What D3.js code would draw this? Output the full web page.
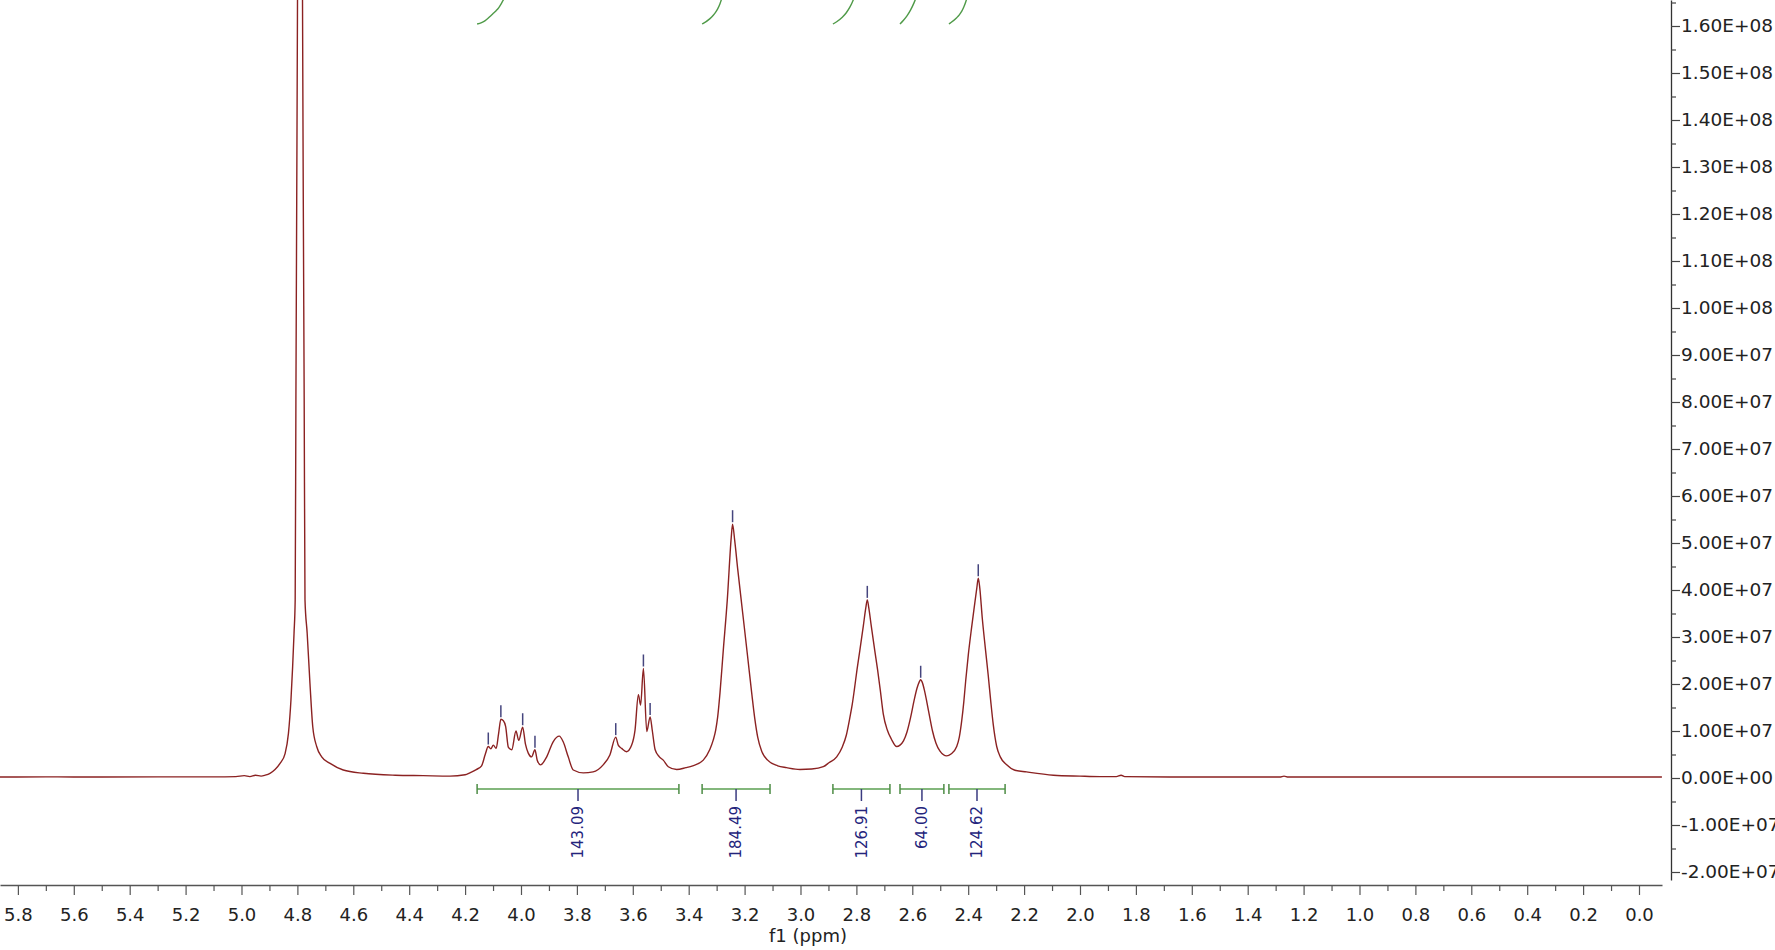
<!DOCTYPE html>
<html>
<head>
<meta charset="utf-8">
<script src="https://cdn.jsdelivr.net/npm/d3@7"></script>
<style>
  html, body { margin: 0; padding: 0; background: #fff; }
  svg { display: block; font-family: "DejaVu Sans", Verdana, sans-serif; }
</style>
</head>
<body>
<svg id="chart" width="1775" height="950"></svg>
<script>
const UNIT = 1e7; // intensities below are in units of 1e7

// 1H spectrum: [ppm, intensity / 1e7], ppm descending
const spectrumPoints = [
  [5.864, 0.02], [5.70, 0.025], [5.50, 0.02], [5.30, 0.025], [5.10, 0.025], [5.02, 0.03],
  [4.990, 0.05], [4.970, 0.03], [4.950, 0.06], [4.930, 0.04], [4.915, 0.06], [4.898, 0.10],
  [4.880, 0.18], [4.862, 0.31], [4.844, 0.52], [4.832, 0.95], [4.823, 1.66], [4.817, 2.37],
  [4.812, 3.08], [4.8079, 3.79], [4.8053, 8.04], [4.8024, 12.3], [4.7996, 16.55], [4.7955, 26],
  [4.7907, 43], [4.7860, 26], [4.7817, 16.55], [4.7789, 12.3], [4.7757, 8.04], [4.7728, 3.79],
  [4.765, 3.08], [4.755, 2.01], [4.745, 1.09], [4.731, 0.67], [4.713, 0.45], [4.683, 0.31],
  [4.636, 0.17], [4.564, 0.10], [4.45, 0.06], [4.35, 0.05], [4.254, 0.04], [4.200, 0.07],
  [4.183, 0.11], [4.160, 0.18], [4.141, 0.26], [4.128, 0.50], [4.117, 0.67], [4.108, 0.62],
  [4.099, 0.70], [4.089, 0.63], [4.080, 0.95], [4.072, 1.25], [4.063, 1.22], [4.055, 1.10],
  [4.045, 0.65], [4.033, 0.60], [4.018, 1.00], [4.008, 0.80], [3.994, 1.08], [3.984, 0.72],
  [3.974, 0.53], [3.962, 0.45], [3.950, 0.60], [3.942, 0.38], [3.930, 0.28], [3.908, 0.45],
  [3.885, 0.77], [3.863, 0.89], [3.849, 0.77], [3.831, 0.45], [3.813, 0.17], [3.777, 0.11],
  [3.742, 0.13], [3.706, 0.28], [3.682, 0.49], [3.661, 0.87], [3.652, 0.70], [3.640, 0.63],
  [3.622, 0.56], [3.604, 0.70], [3.592, 1.02], [3.580, 1.77], [3.572, 1.55], [3.562, 2.33],
  [3.550, 0.99], [3.538, 1.30], [3.530, 1.00], [3.520, 0.60], [3.505, 0.45], [3.491, 0.38],
  [3.473, 0.24], [3.443, 0.18], [3.410, 0.22], [3.3857, 0.26], [3.3478, 0.38], [3.3249, 0.60],
  [3.3120, 0.81], [3.3034, 1.02], [3.2963, 1.30], [3.2880, 1.81], [3.2762, 2.72], [3.2619, 3.79],
  [3.2479, 5.11], [3.243, 5.40], [3.2355, 5.06], [3.2247, 4.45], [3.2068, 3.51], [3.1889, 2.57],
  [3.1746, 1.81], [3.1639, 1.28], [3.1531, 0.87], [3.1388, 0.57], [3.1174, 0.38], [3.0816, 0.26],
  [3.050, 0.22], [3.002, 0.18], [2.960, 0.19], [2.9184, 0.24], [2.8970, 0.33], [2.8705, 0.45],
  [2.8504, 0.66], [2.8361, 0.91], [2.8229, 1.30], [2.8147, 1.57], [2.8075, 1.87], [2.7979, 2.30],
  [2.7875, 2.72], [2.7753, 3.23], [2.7664, 3.62], [2.761, 3.79], [2.7556, 3.62], [2.7467, 3.23],
  [2.7345, 2.72], [2.7241, 2.30], [2.7145, 1.87], [2.7037, 1.36], [2.6894, 1.02], [2.6751, 0.83],
  [2.6558, 0.67], [2.6440, 0.70], [2.6315, 0.79], [2.6190, 0.98], [2.6064, 1.28], [2.5939, 1.64],
  [2.5832, 1.91], [2.5754, 2.04], [2.570, 2.09], [2.5646, 2.04], [2.5567, 1.87], [2.5474, 1.60],
  [2.5378, 1.30], [2.5277, 1.00], [2.5152, 0.74], [2.5009, 0.57], [2.4769, 0.47], [2.4615, 0.51],
  [2.4411, 0.67], [2.4318, 0.87], [2.4229, 1.23], [2.4157, 1.62], [2.4086, 2.09], [2.3996, 2.62],
  [2.3889, 3.15], [2.3782, 3.64], [2.3692, 4.04], [2.364, 4.25], [2.3585, 4.04], [2.3496, 3.40],
  [2.3388, 2.77], [2.3281, 2.17], [2.3191, 1.62], [2.3102, 1.13], [2.2980, 0.67], [2.2852, 0.45],
  [2.2623, 0.28], [2.2351, 0.17], [2.191, 0.13], [2.095, 0.06], [2.000, 0.04], [1.928, 0.03],
  [1.870, 0.03], [1.853, 0.06], [1.840, 0.03], [1.600, 0.02], [1.400, 0.02], [1.285, 0.02],
  [1.270, 0.04], [1.255, 0.02], [1.000, 0.02], [0.600, 0.02], [0.300, 0.02], [-0.082, 0.02]
];

// picked peaks
const peakPpm = [4.117, 4.072, 3.994, 3.950, 3.661, 3.562, 3.538, 3.243, 2.761, 2.570, 2.364];

// integrals
const integralFrom  = [4.157, 3.352, 2.884, 2.644, 2.469];
const integralTo    = [3.435, 3.109, 2.680, 2.487, 2.268];
const integralLabel = ['143.09', '184.49', '126.91', '64.00', '124.62'];

// axes
const xTickValues = [5.8, 5.6, 5.4, 5.2, 5.0, 4.8, 4.6, 4.4, 4.2, 4.0, 3.8, 3.6, 3.4, 3.2,
  3.0, 2.8, 2.6, 2.4, 2.2, 2.0, 1.8, 1.6, 1.4, 1.2, 1.0, 0.8, 0.6, 0.4, 0.2, 0.0];
const yTickValues = [-2e7, -1e7, 0, 1e7, 2e7, 3e7, 4e7, 5e7, 6e7, 7e7, 8e7, 9e7,
  1e8, 1.1e8, 1.2e8, 1.3e8, 1.4e8, 1.5e8, 1.6e8];

const spectrum = spectrumPoints.map(([p, v]) => ({ ppm: p, v: v * UNIT }));

const svg = d3.select('#chart');
const plotRight = 1662, axisY = 885, axisX = 1671;

const x = d3.scaleLinear().domain([5.864, -0.0823]).range([0, plotRight]);
const y = d3.scaleLinear().domain([-2e7, 1.6e8]).range([872, 26]);

function valueAt(ppm) {
  for (let i = 0; i < spectrum.length - 1; i++) {
    const a = spectrum[i], b = spectrum[i + 1];
    if (ppm <= a.ppm && ppm >= b.ppm) {
      const t = (a.ppm - ppm) / (a.ppm - b.ppm);
      return a.v + t * (b.v - a.v);
    }
  }
  return 0;
}

svg.append('defs').append('clipPath').attr('id', 'plotClip')
  .append('rect').attr('x', 0).attr('y', 0).attr('width', plotRight).attr('height', axisY);

const plot = svg.append('g').attr('clip-path', 'url(#plotClip)');

// spectrum
const line = d3.line()
  .x(d => x(d.ppm))
  .y(d => y(d.v))
  .curve(d3.curveMonotoneX);

plot.append('path')
  .datum(spectrum)
  .attr('d', line)
  .attr('fill', 'none')
  .attr('stroke', '#8b2222')
  .attr('stroke-width', 1.4)
  .attr('stroke-linejoin', 'round');

// peak picking marks
plot.append('g').selectAll('line')
  .data(peakPpm)
  .join('line')
  .attr('x1', d => x(d)).attr('x2', d => x(d))
  .attr('y1', d => y(valueAt(d)) - 2)
  .attr('y2', d => y(valueAt(d)) - 14)
  .attr('stroke', '#45457e')
  .attr('stroke-width', 1.5);

// integral curves (running integral of each region, mostly off the top)
const intY = d3.scaleLinear().domain([0, 0.06 * UNIT]).range([24, 0]);
const intLine = d3.line().x(d => x(d.ppm)).y(d => intY(d.s)).curve(d3.curveMonotoneX);

integralFrom.forEach((from, k) => {
  const to = integralTo[k];
  const pts = [{ ppm: from, v: valueAt(from) }]
    .concat(spectrum.filter(d => d.ppm < from && d.ppm > to))
    .concat([{ ppm: to, v: valueAt(to) }]);
  let s = 0;
  const cum = pts.map((d, i) => {
    if (i > 0) s += (pts[i - 1].ppm - d.ppm) * (pts[i - 1].v + d.v) / 2;
    return { ppm: d.ppm, s };
  });
  plot.append('path')
    .datum(cum)
    .attr('d', intLine)
    .attr('fill', 'none')
    .attr('stroke', '#4f9a48')
    .attr('stroke-width', 1.4);
});

// integral bars and labels
const barY = 789;
const integrals = svg.append('g');
integralFrom.forEach((from, k) => {
  const x0 = x(from), x1 = x(integralTo[k]), xm = (x0 + x1) / 2;
  const g = integrals.append('g');
  g.append('line').attr('x1', x0).attr('x2', x1).attr('y1', barY).attr('y2', barY)
    .attr('stroke', '#5a9f50').attr('stroke-width', 1.5);
  [x0, x1].forEach(xe => g.append('line')
    .attr('x1', xe).attr('x2', xe).attr('y1', barY - 5).attr('y2', barY + 5)
    .attr('stroke', '#4d8c45').attr('stroke-width', 1.5));
  g.append('line').attr('x1', xm).attr('x2', xm).attr('y1', barY).attr('y2', barY + 12)
    .attr('stroke', '#3a3a80').attr('stroke-width', 1.5);
  g.append('text')
    .attr('transform', `translate(${xm},${barY + 17}) rotate(-90)`)
    .attr('text-anchor', 'end')
    .attr('dy', '0.36em')
    .attr('font-size', '15px')
    .attr('fill', '#24247c')
    .text(integralLabel[k]);
});

// x axis
const xMinor = xTickValues.slice(0, -1).map((t, i) => +((t + xTickValues[i + 1]) / 2).toFixed(1));

const xAxisG = svg.append('g').attr('transform', `translate(0,${axisY})`);
xAxisG.call(d3.axisBottom(x).tickValues(xTickValues).tickSize(10).tickSizeOuter(0)
  .tickPadding(13).tickFormat(d3.format('.1f')));
xAxisG.append('g').call(d3.axisBottom(x).tickValues(xMinor).tickSize(6).tickFormat(''))
  .select('.domain').remove();
xAxisG.selectAll('.domain').attr('stroke', '#555').attr('stroke-width', 1.3);
xAxisG.selectAll('.tick line').attr('stroke', '#555').attr('stroke-width', 1.2);
xAxisG.selectAll('.tick text').attr('font-size', '18px').attr('fill', '#222')
  .attr('font-family', '"DejaVu Sans", Verdana, sans-serif');

svg.append('text')
  .attr('x', 808).attr('y', 942)
  .attr('text-anchor', 'middle')
  .attr('font-size', '18px')
  .attr('fill', '#222')
  .text('f1 (ppm)');

// y axis
function sci(v) {
  const [m, e] = v.toExponential(2).split('e');
  const n = parseInt(e, 10);
  return m + 'E' + (n < 0 ? '-' : '+') + String(Math.abs(n)).padStart(2, '0');
}
const yAxisScale = d3.scaleLinear().domain([y.invert(880), y.invert(0)]).range([880, 0]);
const yMinor = yTickValues.map(t => t + 5e6).filter(t => yAxisScale(t) >= 0);

const yAxisG = svg.append('g').attr('transform', `translate(${axisX},0)`);
yAxisG.call(d3.axisRight(yAxisScale).tickValues(yTickValues).tickSize(9).tickSizeOuter(0)
  .tickPadding(1).tickFormat(sci));
yAxisG.append('g').call(d3.axisRight(yAxisScale).tickValues(yMinor).tickSize(5).tickFormat(''))
  .select('.domain').remove();
yAxisG.selectAll('.domain').attr('stroke', '#333').attr('stroke-width', 1.3);
yAxisG.selectAll('.tick line').attr('stroke', '#444').attr('stroke-width', 1.2);
yAxisG.selectAll('.tick text').attr('font-size', '18.5px').attr('fill', '#222')
  .attr('font-family', '"DejaVu Sans", Verdana, sans-serif');
</script>
</body>
</html>
